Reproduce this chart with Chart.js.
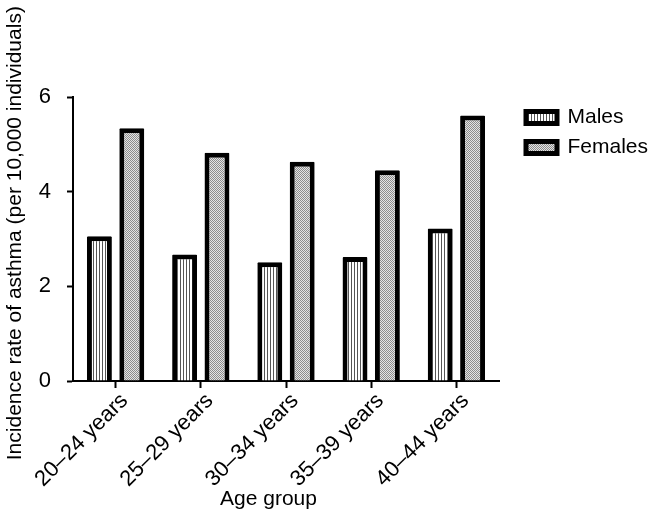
<!DOCTYPE html>
<html>
<head>
<meta charset="utf-8">
<script src="https://cdn.jsdelivr.net/npm/chart.js@4.4.1/dist/chart.umd.min.js"></script>
<style>
  html, body { margin: 0; padding: 0; background: #fff; }
  #wrap { width: 649px; height: 513px; position: relative; }
</style>
</head>
<body>
<div id="wrap"><canvas id="chart"></canvas></div>
<script>
const ageGroups = ["20–24 years", "25–29 years", "30–34 years", "35–39 years", "40–44 years"];
const males = [3.06, 2.67, 2.51, 2.62, 3.22];
const females = [5.34, 4.82, 4.63, 4.45, 5.61];
const yTicks = [0, 2, 4, 6];

const FONT = "'Liberation Sans', Arial, sans-serif";

function makePattern(draw, w, h) {
  const c = document.createElement("canvas");
  c.width = w;
  c.height = h;
  const g = c.getContext("2d");
  draw(g);
  return g.createPattern(c, "repeat");
}

// vertical hatch for males
const stripePattern = makePattern((g) => {
  g.fillStyle = "#fff";
  g.fillRect(0, 0, 3, 3);
  g.fillStyle = "#555";
  g.fillRect(0, 0, 1, 3);
}, 3, 3);

// fine stipple for females
const dotPattern = makePattern((g) => {
  g.fillStyle = "#e4e4e4";
  g.fillRect(0, 0, 2, 2);
  g.fillStyle = "#8c8c8c";
  g.fillRect(0, 0, 1, 1);
  g.fillRect(1, 1, 1, 1);
}, 2, 2);

// put the legend at a fixed spot to the right of the plot
const legendSpot = {
  id: "legendSpot",
  afterLayout(chart) {
    const lg = chart.legend;
    const w = lg.right - lg.left;
    const h = lg.bottom - lg.top;
    lg.left = 517;
    lg.right = lg.left + w;
    lg.top = 98;
    lg.bottom = lg.top + h;
  },
};

const ctx = document.getElementById("chart").getContext("2d");

new Chart(ctx, {
  type: "bar",
  data: {
    labels: ageGroups,
    datasets: [
      {
        label: "Males",
        data: males,
        backgroundColor: stripePattern,
        borderColor: "#000",
        borderWidth: 5,
        borderRadius: 1,
      },
      {
        label: "Females",
        data: females,
        backgroundColor: dotPattern,
        borderColor: "#000",
        borderWidth: 5,
        borderRadius: 1,
      },
    ],
  },
  options: {
    responsive: true,
    maintainAspectRatio: false,
    animation: false,
    datasets: {
      bar: { categoryPercentage: 0.76, barPercentage: 0.77 },
    },
    layout: { padding: { top: 97, right: 150, bottom: 0, left: 0 } },
    plugins: {
      tooltip: { enabled: false },
      legend: {
        position: "chartArea",
        align: "start",
        labels: {
          color: "#000",
          font: { family: FONT, size: 21 },
          boxWidth: 31,
          boxHeight: 12,
          padding: 9,
        },
      },
    },
    scales: {
      x: {
        grid: { offset: false, drawOnChartArea: false, drawTicks: true, tickLength: 7, tickWidth: 2, tickColor: "#000" },
        border: { display: true, color: "#000", width: 2 },
        ticks: { color: "#000", font: { family: FONT, size: 22 }, maxRotation: 45, minRotation: 45, padding: 0, labelOffset: 9 },
        title: { display: true, text: "Age group      ", color: "#000", font: { family: FONT, size: 21 }, padding: { top: 0, bottom: 1 } },
        afterFit: (scale) => { scale.height = 132; },
      },
      y: {
        min: 0,
        max: 6,
        afterBuildTicks: (scale) => { scale.ticks = yTicks.map((v) => ({ value: v })); },
        grid: { drawOnChartArea: false, drawTicks: true, tickLength: 6, tickWidth: 2, tickColor: "#000" },
        border: { display: true, color: "#000", width: 2 },
        ticks: { color: "#000", font: { family: FONT, size: 22 }, padding: 16 },
        title: {
          display: true,
          text: "  Incidence rate of asthma (per 10,000 individuals)",
          color: "#000",
          font: { family: FONT, size: 21 },
          padding: { top: 3, bottom: 0 },
        },
        afterFit: (scale) => { scale.width = 73; },
      },
    },
  },
  plugins: [legendSpot],
});
</script>
</body>
</html>
